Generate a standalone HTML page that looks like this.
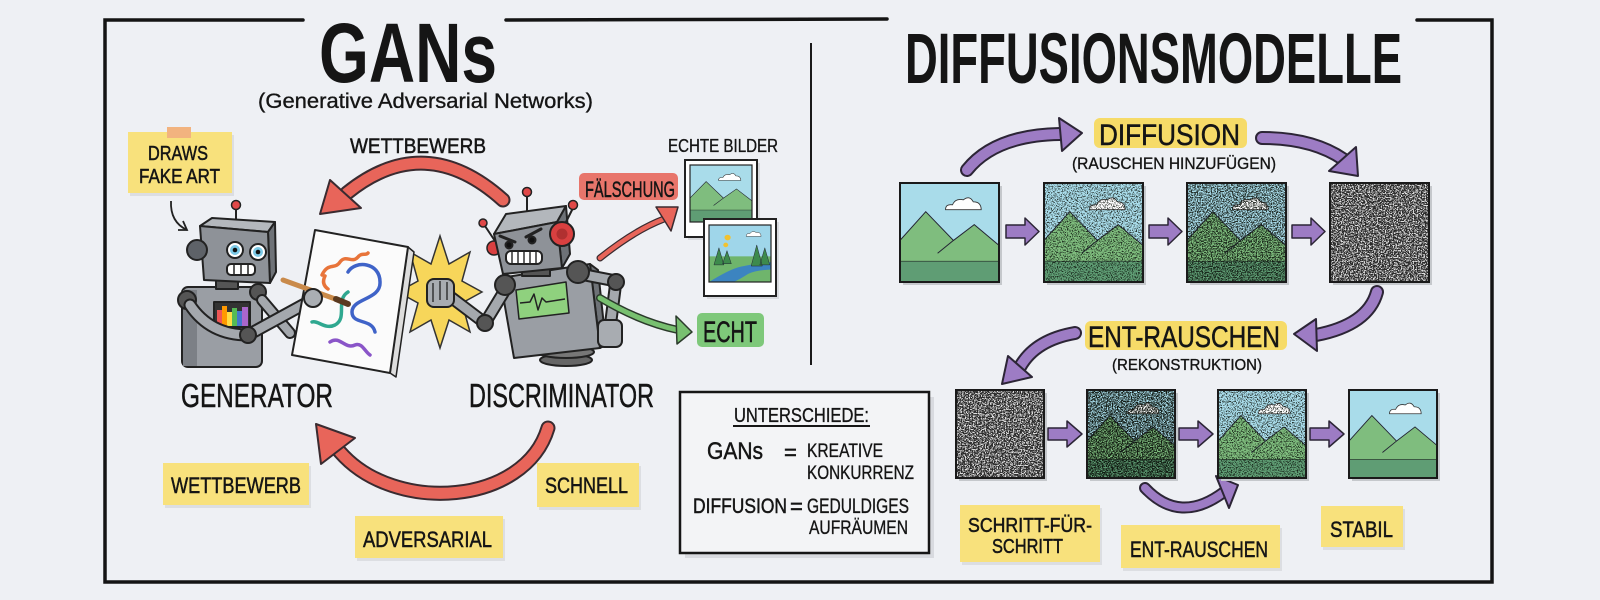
<!DOCTYPE html>
<html><head><meta charset="utf-8">
<style>
html,body{margin:0;padding:0;background:#eef0f4;}
svg{display:block;}
text{font-family:"Liberation Sans","DejaVu Sans",sans-serif;fill:#151515;}
.lb{stroke:#151515;stroke-width:0.5;}
.lt{stroke:#151515;stroke-width:0.35;}
</style></head><body>
<svg width="1600" height="600" viewBox="0 0 1600 600" xmlns="http://www.w3.org/2000/svg" xmlns:xlink="http://www.w3.org/1999/xlink">
<defs>
 <filter id="nd1" x="0" y="0" width="1" height="1" color-interpolation-filters="sRGB">
  <feTurbulence type="fractalNoise" baseFrequency="0.8" numOctaves="2" seed="7"/>
  <feColorMatrix type="matrix" values="0 0 0 0 0.05  0 0 0 0 0.08  0 0 0 0 0.05  10 0 0 0 -5.2"/>
 </filter>
 <filter id="nd2" x="0" y="0" width="1" height="1" color-interpolation-filters="sRGB">
  <feTurbulence type="fractalNoise" baseFrequency="0.8" numOctaves="2" seed="11"/>
  <feColorMatrix type="matrix" values="0 0 0 0 0.05  0 0 0 0 0.08  0 0 0 0 0.05  10 0 0 0 -4.6"/>
 </filter>
 <filter id="nw" x="0" y="0" width="1" height="1" color-interpolation-filters="sRGB">
  <feTurbulence type="fractalNoise" baseFrequency="0.75" numOctaves="2" seed="3"/>
  <feColorMatrix type="matrix" values="0 0 0 0 0.88  0 0 0 0 0.88  0 0 0 0 0.88  0 10 0 0 -4.9"/>
 </filter>
 <symbol id="land" viewBox="0 0 100 100" preserveAspectRatio="none">
  <rect width="100" height="100" fill="#a9dcea"/>
  <path d="M0,58 L26,29 L54,58 L75,42 L100,63 L100,80 L0,80 Z" fill="#7fbd7e" stroke="#223" stroke-width="1"/>
  <path d="M38,71 L54,58" stroke="#223" stroke-width="1" fill="none"/>
  <rect y="79" width="100" height="21" fill="#5f9d74"/>
  <path d="M0,79 H100" stroke="#2a3d30" stroke-width="0.8"/>
  <path d="M46,27 Q46,21 53,22 Q56,15 64,17 Q70,12 74,19 Q82,19 82,27 Z" fill="#fff" stroke="#333" stroke-width="0.9"/>
 </symbol>
 <symbol id="forest" viewBox="0 0 100 100" preserveAspectRatio="none">
  <rect width="100" height="100" fill="#9fd6ea"/>
  <rect y="55" width="100" height="45" fill="#6fb56c"/>
  <path d="M0,100 Q30,80 45,75 Q60,70 100,65 L100,78 Q70,80 60,88 Q50,95 40,100 Z" fill="#3c84c0"/>
  <path d="M8,70 L16,40 L24,70Z M22,68 L29,45 L36,68Z M68,72 L77,35 L86,72Z M82,70 L90,40 L98,70Z" fill="#3d8a4c" stroke="#223" stroke-width="0.8"/>
  <circle cx="30" cy="22" r="5" fill="#f2c230"/>
  <circle cx="27" cy="35" r="4" fill="#f2c230"/>
  <path d="M60,20 Q60,14 66,15 Q70,9 76,13 Q84,12 84,20Z" fill="#fff" stroke="#333" stroke-width="0.8"/>
 </symbol>
</defs>

<rect width="1600" height="600" fill="#eef0f4"/>

<!-- Frame -->
<g stroke="#141414" stroke-width="3.5" stroke-linecap="round" fill="none">
 <path d="M303,20 L105,20 L105,582 L1492,582 L1492,20 L1417,20"/>
 <path d="M506,20 L887,19"/>
</g>
<path d="M811,43 L811,365" stroke="#1a1a1a" stroke-width="2"/>

<!-- Titles -->
<text x="319" y="82" font-size="84" font-weight="bold" textLength="178" lengthAdjust="spacingAndGlyphs">GANs</text>
<text x="258" y="108" font-size="21" class="lt" textLength="335" lengthAdjust="spacingAndGlyphs">(Generative Adversarial Networks)</text>
<text x="905" y="83" font-size="71" font-weight="bold" textLength="497" lengthAdjust="spacingAndGlyphs">DIFFUSIONSMODELLE</text>

<!-- DRAWS FAKE ART sticky -->
<rect x="130" y="135" width="104" height="61" fill="#c9cbcf" opacity="0.5"/>
<rect x="128" y="132" width="104" height="61" fill="#f8e17c"/>
<rect x="167" y="127" width="24" height="11" fill="#f2b37f"/>
<text x="148" y="160" font-size="20" class="lb" textLength="60" lengthAdjust="spacingAndGlyphs">DRAWS</text>
<text x="139" y="183" font-size="20" class="lb" textLength="81" lengthAdjust="spacingAndGlyphs">FAKE ART</text>
<path d="M171,201 Q170,222 187,230" stroke="#222" stroke-width="1.8" fill="none"/>
<path d="M178,230 L187,230 L183,221" stroke="#222" stroke-width="1.8" fill="none"/>

<text x="350" y="153" font-size="21" class="lb" textLength="136" lengthAdjust="spacingAndGlyphs">WETTBEWERB</text>

<!-- Top red arrow -->
<path d="M503,200 Q425,130 347,193" stroke="#3a2b30" stroke-width="15" fill="none" stroke-linecap="round"/>
<path d="M503,200 Q425,130 347,193" stroke="#e8655a" stroke-width="11" fill="none" stroke-linecap="round"/>
<polygon points="320,214 330,180 361,208" fill="#e8655a" stroke="#3a2b30" stroke-width="2" stroke-linejoin="round"/>

<!-- Starburst -->
<polygon points="482,292 462,303 470,332 449,320 440,348 431,320 410,332 418,303 398,292 418,281 410,252 431,264 440,236 449,264 470,252 462,281" fill="#f7d65a" stroke="#333" stroke-width="1.5"/>

<!-- Generator robot -->
<g stroke="#222" stroke-width="2" stroke-linejoin="round">
 <rect x="182" y="287" width="80" height="80" rx="6" fill="#9a9ea4"/>
 <rect x="183" y="290" width="14" height="76" fill="#7c8086" stroke="none"/>
 <rect x="214" y="302" width="36" height="25" fill="#333"/>
 <rect x="217" y="310" width="5" height="16" fill="#e55" stroke="none"/>
 <rect x="222" y="306" width="5" height="20" fill="#f90" stroke="none"/>
 <rect x="227" y="312" width="5" height="14" fill="#fd4" stroke="none"/>
 <rect x="232" y="308" width="5" height="18" fill="#5b5" stroke="none"/>
 <rect x="237" y="311" width="5" height="15" fill="#47c" stroke="none"/>
 <rect x="242" y="307" width="6" height="19" fill="#a6c" stroke="none"/>
 <rect x="216" y="280" width="22" height="9" fill="#555"/>
 <circle cx="258" cy="292" r="8" fill="#555"/>
 <path d="M262,300 L290,333" stroke="#222" stroke-width="12" fill="none" stroke-linecap="round"/>
 <path d="M262,300 L290,333" stroke="#a4a8ad" stroke-width="8" fill="none" stroke-linecap="round"/>
 <circle cx="187" cy="300" r="9" fill="#555"/>
 <path d="M190,305 Q210,335 248,335 L312,300" stroke="#222" stroke-width="13" fill="none" stroke-linecap="round"/>
 <path d="M190,305 Q210,335 248,335 L312,300" stroke="#a4a8ad" stroke-width="9" fill="none" stroke-linecap="round"/>
 <circle cx="248" cy="335" r="8" fill="#555"/>
</g>
<!-- Canvas -->
<g stroke="#222" stroke-linejoin="round">
 <polygon points="408,247 414,252 396,377 390,373" fill="#ddd" stroke-width="1.5"/>
 <polygon points="315,230 408,247 390,373 292,355" fill="#fbfbfb" stroke-width="2"/>
 <g fill="none" stroke-width="3.5" stroke-linecap="round">
  <path d="M322,275 C328,262 335,270 340,262 C346,254 352,264 358,257 C362,252 366,256 368,253" stroke="#e8743a"/>
  <path d="M325,276 q-4,8 3,13" stroke="#e8743a"/>
  <path d="M348,272 C355,260 380,262 380,282 C381,300 352,298 352,312 C352,325 372,318 375,332" stroke="#3f63c8"/>
  <path d="M348,292 C335,300 348,318 335,325 C325,330 318,320 312,322" stroke="#2fa890"/>
  <path d="M330,342 C340,335 345,350 355,345 C362,342 365,352 370,355" stroke="#8a55c8"/>
 </g>
</g>
<!-- brush + hand -->
<path d="M283,280 L338,300" stroke="#c98a4a" stroke-width="5" stroke-linecap="round"/>
<path d="M336,299 L348,304" stroke="#5a3a20" stroke-width="6" stroke-linecap="round"/>
<circle cx="313" cy="298" r="9" fill="#aaaeb3" stroke="#222" stroke-width="2"/>
<!-- Generator head -->
<g stroke="#222" stroke-width="2" stroke-linejoin="round">
 <line x1="236" y1="207" x2="236" y2="221"/>
 <circle cx="236" cy="205" r="4.5" fill="#e04848" stroke-width="1.5"/>
 <polygon points="200,226 212,218 275,222 268,232" fill="#b4b8bd"/>
 <polygon points="268,232 275,222 276,272 270,283" fill="#6e7277"/>
 <polygon points="200,226 268,232 270,283 204,280" fill="#8e9298"/>
 <circle cx="197" cy="250" r="10" fill="#5e6268"/>
 <circle cx="235" cy="250" r="8" fill="#fff"/>
 <circle cx="235" cy="250" r="5" fill="#7cc9e6" stroke="none"/>
 <circle cx="235" cy="250" r="2.3" fill="#111" stroke="none"/>
 <circle cx="258" cy="252" r="8" fill="#fff"/>
 <circle cx="258" cy="252" r="5" fill="#7cc9e6" stroke="none"/>
 <circle cx="258" cy="252" r="2.3" fill="#111" stroke="none"/>
 <rect x="227" y="264" width="28" height="11" rx="4" fill="#fff"/>
 <path d="M234,264 V275 M241,264 V275 M248,264 V275" stroke-width="1.5"/>
</g>

<!-- Discriminator robot -->
<g stroke="#222" stroke-width="2" stroke-linejoin="round">
 <ellipse cx="566" cy="360" rx="26" ry="6" fill="#666"/>
 <ellipse cx="566" cy="352" rx="28" ry="6" fill="#777"/>
 <polygon points="590,264 598,270 606,345 600,348" fill="#6e7277"/>
 <polygon points="500,278 590,264 600,348 514,358" fill="#9a9ea4"/>
 <polygon points="516,290 566,282 569,313 519,319" fill="#8fd17e" stroke-width="1.5"/>
 <polyline points="520,303 530,302 534,294 538,310 542,298 546,302 565,299" fill="none" stroke-width="1.5"/>
 <rect x="522" y="266" width="28" height="10" fill="#555"/>
 <path d="M505,290 L485,323 L448,295" stroke="#222" stroke-width="13" fill="none" stroke-linecap="round"/>
 <path d="M505,290 L485,323 L448,295" stroke="#a4a8ad" stroke-width="9" fill="none" stroke-linecap="round"/>
 <circle cx="505" cy="285" r="10" fill="#555"/>
 <circle cx="485" cy="323" r="8" fill="#555"/>
 <rect x="427" y="279" width="27" height="28" rx="7" fill="#a8acb1"/>
 <path d="M433,283 V302 M440,281 V300 M447,282 V300" stroke-width="1.3"/>
 <path d="M580,274 L616,281 L610,328" stroke="#222" stroke-width="13" fill="none" stroke-linecap="round"/>
 <path d="M580,274 L616,281 L610,328" stroke="#a4a8ad" stroke-width="9" fill="none" stroke-linecap="round"/>
 <circle cx="578" cy="272" r="11" fill="#555"/>
 <circle cx="616" cy="282" r="8" fill="#555"/>
 <rect x="598" y="320" width="24" height="27" rx="6" fill="#a8acb1"/>
 <!-- head -->
 <line x1="527" y1="216" x2="527" y2="195"/>
 <circle cx="527" cy="192" r="4.5" fill="#e04848" stroke-width="1.5"/>
 <line x1="497" y1="244" x2="485" y2="226"/>
 <circle cx="483" cy="223" r="4" fill="#e04848" stroke-width="1.5"/>
 <circle cx="494" cy="248" r="7" fill="#d94040" stroke-width="1.5"/>
 <polygon points="494,234 506,214 566,206 557,222" fill="#b3b7bc"/>
 <polygon points="557,222 566,206 570,254 562,268" fill="#6e7277"/>
 <polygon points="494,234 557,222 562,268 503,274" fill="#8e9298"/>
 <line x1="565" y1="224" x2="573" y2="208"/>
 <circle cx="573" cy="205" r="4.5" fill="#e04848" stroke-width="1.5"/>
 <circle cx="562" cy="234" r="12" fill="#d94040"/>
 <circle cx="562" cy="234" r="5.5" fill="#b03030" stroke="none"/>
 <circle cx="509" cy="245" r="3.5" fill="#111"/>
 <circle cx="532" cy="240" r="3.5" fill="#111"/>
 <path d="M500,236 L515,242 M526,237 L541,229" stroke-width="3" stroke-linecap="round"/>
 <rect x="506" y="251" width="36" height="13" rx="5" fill="#fff"/>
 <path d="M512,251 V264 M518,251 V264 M524,251 V264 M530,251 V264 M536,251 V264" stroke-width="1.4"/>
</g>

<!-- Echte Bilder -->
<text x="668" y="152" font-size="18" class="lt" textLength="110" lengthAdjust="spacingAndGlyphs">ECHTE BILDER</text>
<rect x="688" y="163" width="72" height="77" fill="#c9cbcf" opacity="0.6"/>
<rect x="685" y="160" width="72" height="77" fill="#fff" stroke="#222" stroke-width="2"/>
<use xlink:href="#land" x="690" y="165" width="62" height="57"/>
<rect x="690" y="165" width="62" height="57" fill="none" stroke="#222" stroke-width="1.2"/>
<rect x="707" y="222" width="72" height="77" fill="#c9cbcf" opacity="0.6"/>
<rect x="704" y="219" width="72" height="77" fill="#fff" stroke="#222" stroke-width="2"/>
<use xlink:href="#forest" x="709" y="225" width="62" height="57"/>
<rect x="709" y="225" width="62" height="57" fill="none" stroke="#222" stroke-width="1.2"/>

<!-- Fälschung -->
<rect x="579" y="173" width="99" height="27" rx="5" fill="#e8756b"/>
<text x="585" y="197" font-size="22" class="lb" textLength="90" lengthAdjust="spacingAndGlyphs">FÄLSCHUNG</text>
<path d="M600,258 Q635,230 664,219" stroke="#3a2b30" stroke-width="7" fill="none" stroke-linecap="round"/>
<path d="M600,258 Q635,230 664,219" stroke="#e8655a" stroke-width="4.5" fill="none" stroke-linecap="round"/>
<polygon points="678,207 656,207 671,231" fill="#e8655a" stroke="#3a2b30" stroke-width="1.5" stroke-linejoin="round"/>

<!-- Echt -->
<path d="M600,298 Q640,322 678,330" stroke="#2b3a2b" stroke-width="8" fill="none" stroke-linecap="round"/>
<path d="M600,298 Q640,322 678,330" stroke="#78c070" stroke-width="5" fill="none" stroke-linecap="round"/>
<polygon points="692,332 676,316 677,344" fill="#78c070" stroke="#2b3a2b" stroke-width="1.5" stroke-linejoin="round"/>
<rect x="697" y="313" width="67" height="34" rx="5" fill="#7ec87a"/>
<text x="703" y="342" font-size="30" class="lb" textLength="54" lengthAdjust="spacingAndGlyphs">ECHT</text>

<!-- Generator / Discriminator labels -->
<text x="181" y="407" font-size="33" class="lb" textLength="152" lengthAdjust="spacingAndGlyphs">GENERATOR</text>
<text x="469" y="407" font-size="33" class="lb" textLength="185" lengthAdjust="spacingAndGlyphs">DISCRIMINATOR</text>

<!-- Bottom red arrow -->
<path d="M548,428 C525,505 395,515 340,452" stroke="#3a2b30" stroke-width="15" fill="none" stroke-linecap="round"/>
<path d="M548,428 C525,505 395,515 340,452" stroke="#e8655a" stroke-width="11" fill="none" stroke-linecap="round"/>
<polygon points="316,424 321,464 355,438" fill="#e8655a" stroke="#3a2b30" stroke-width="2" stroke-linejoin="round"/>

<!-- Bottom stickies left -->
<rect x="165" y="466" width="146" height="42" fill="#c9cbcf" opacity="0.5"/>
<rect x="163" y="463" width="146" height="42" fill="#f8e17c"/>
<text x="171" y="493" font-size="22" class="lb" textLength="130" lengthAdjust="spacingAndGlyphs">WETTBEWERB</text>
<rect x="539" y="466" width="102" height="44" fill="#c9cbcf" opacity="0.5"/>
<rect x="537" y="463" width="102" height="44" fill="#f8e17c"/>
<text x="545" y="493" font-size="22" class="lb" textLength="83" lengthAdjust="spacingAndGlyphs">SCHNELL</text>
<rect x="357" y="519" width="148" height="42" fill="#c9cbcf" opacity="0.5"/>
<rect x="355" y="516" width="148" height="42" fill="#f8e17c"/>
<text x="363" y="547" font-size="22" class="lb" textLength="129" lengthAdjust="spacingAndGlyphs">ADVERSARIAL</text>

<!-- Unterschiede box -->
<rect x="685" y="397" width="249" height="161" fill="#c9cbd0" opacity="0.6"/>
<rect x="680" y="392" width="249" height="161" fill="#f3f4f6" stroke="#161616" stroke-width="2.5"/>
<text x="734" y="422" font-size="20" class="lt" textLength="135" lengthAdjust="spacingAndGlyphs">UNTERSCHIEDE:</text>
<line x1="733" y1="426" x2="870" y2="426" stroke="#161616" stroke-width="2"/>
<text x="707" y="459" font-size="24" class="lb" textLength="56" lengthAdjust="spacingAndGlyphs">GANs</text>
<text x="784" y="460" font-size="22" class="lb">=</text>
<text x="807" y="457" font-size="19" class="lt" textLength="76" lengthAdjust="spacingAndGlyphs">KREATIVE</text>
<text x="807" y="479" font-size="19" class="lt" textLength="107" lengthAdjust="spacingAndGlyphs">KONKURRENZ</text>
<text x="693" y="513" font-size="21" class="lb" textLength="94" lengthAdjust="spacingAndGlyphs">DIFFUSION</text>
<text x="790" y="514" font-size="22" class="lb">=</text>
<text x="807" y="513" font-size="21" class="lt" textLength="102" lengthAdjust="spacingAndGlyphs">GEDULDIGES</text>
<text x="809" y="534" font-size="19" class="lt" textLength="99" lengthAdjust="spacingAndGlyphs">AUFRÄUMEN</text>

<!-- Diffusion top labels -->
<rect x="1094" y="118" width="153" height="30" rx="6" fill="#f6db68"/>
<text x="1099" y="145" font-size="30" class="lb" textLength="141" lengthAdjust="spacingAndGlyphs">DIFFUSION</text>
<text x="1072" y="169" font-size="17" class="lt" textLength="204" lengthAdjust="spacingAndGlyphs">(RAUSCHEN HINZUFÜGEN)</text>

<!-- purple curved arrows -->
<g fill="none" stroke-linecap="round">
 <path d="M967,170 Q995,135 1060,134" stroke="#2c2536" stroke-width="14"/>
 <path d="M967,170 Q995,135 1060,134" stroke="#9d7cc4" stroke-width="10"/>
 <path d="M1262,138 Q1312,138 1343,159" stroke="#2c2536" stroke-width="14"/>
 <path d="M1262,138 Q1312,138 1343,159" stroke="#9d7cc4" stroke-width="10"/>
 <path d="M1377,292 Q1368,325 1316,335" stroke="#2c2536" stroke-width="14"/>
 <path d="M1377,292 Q1368,325 1316,335" stroke="#9d7cc4" stroke-width="10"/>
 <path d="M1075,333 Q1035,340 1020,367" stroke="#2c2536" stroke-width="14"/>
 <path d="M1075,333 Q1035,340 1020,367" stroke="#9d7cc4" stroke-width="10"/>
 <path d="M1145,488 Q1180,525 1224,492" stroke="#2c2536" stroke-width="12"/>
 <path d="M1145,488 Q1180,525 1224,492" stroke="#9d7cc4" stroke-width="8"/>
</g>
<g fill="#9d7cc4" stroke="#2c2536" stroke-width="2" stroke-linejoin="round">
 <polygon points="1082,133 1059,118 1062,151"/>
 <polygon points="1358,176 1329,171 1356,147"/>
 <polygon points="1294,334 1316,319 1317,351"/>
 <polygon points="1002,384 1008,356 1032,377"/>
 <polygon points="1238,485 1216,476 1229,508"/>
</g>

<!-- Row 1 images -->
<g>
 <rect x="903" y="186" width="99" height="99" fill="#c5c8cc"/>
 <use xlink:href="#land" x="900" y="183" width="99" height="99"/>
 <rect x="900" y="183" width="99" height="99" fill="none" stroke="#1a1a1a" stroke-width="2"/>

 <rect x="1047" y="186" width="99" height="99" fill="#c5c8cc"/>
 <use xlink:href="#land" x="1044" y="183" width="99" height="99"/>
 <rect x="1044" y="183" width="99" height="99" filter="url(#nd1)" opacity="0.8"/>
 <rect x="1044" y="183" width="99" height="99" fill="none" stroke="#1a1a1a" stroke-width="2"/>

 <rect x="1190" y="186" width="99" height="99" fill="#c5c8cc"/>
 <use xlink:href="#land" x="1187" y="183" width="99" height="99"/>
 <rect x="1187" y="183" width="99" height="99" filter="url(#nd2)" opacity="0.85"/>
 <rect x="1187" y="183" width="99" height="99" fill="none" stroke="#1a1a1a" stroke-width="2"/>

 <rect x="1333" y="186" width="99" height="99" fill="#c5c8cc"/>
 <rect x="1330" y="183" width="99" height="99" fill="#2a2a2a"/>
 <rect x="1330" y="183" width="99" height="99" filter="url(#nw)"/>
 <rect x="1330" y="183" width="99" height="99" fill="none" stroke="#1a1a1a" stroke-width="2"/>
</g>
<g fill="#9d7cc4" stroke="#2c2536" stroke-width="1.5" stroke-linejoin="round">
 <path d="M1006,225 H1025 V218 L1039,231.5 L1025,245 V238 H1006 Z"/>
 <path d="M1149,225 H1168 V218 L1182,231.5 L1168,245 V238 H1149 Z"/>
 <path d="M1292,225 H1311 V218 L1325,231.5 L1311,245 V238 H1292 Z"/>
</g>

<!-- Ent-Rauschen label -->
<rect x="1085" y="321" width="202" height="29" rx="6" fill="#f6db68"/>
<text x="1088" y="347" font-size="30" class="lb" textLength="192" lengthAdjust="spacingAndGlyphs">ENT-RAUSCHEN</text>
<text x="1112" y="370" font-size="16" class="lt" textLength="150" lengthAdjust="spacingAndGlyphs">(REKONSTRUKTION)</text>

<!-- Row 2 images -->
<g>
 <rect x="959" y="393" width="88" height="88" fill="#c5c8cc"/>
 <rect x="956" y="390" width="88" height="88" fill="#2a2a2a"/>
 <rect x="956" y="390" width="88" height="88" filter="url(#nw)"/>
 <rect x="956" y="390" width="88" height="88" fill="none" stroke="#1a1a1a" stroke-width="2"/>

 <rect x="1090" y="393" width="88" height="88" fill="#c5c8cc"/>
 <use xlink:href="#land" x="1087" y="390" width="88" height="88"/>
 <rect x="1087" y="390" width="88" height="88" filter="url(#nd2)" opacity="0.95"/>
 <rect x="1087" y="390" width="88" height="88" filter="url(#nd1)" opacity="0.6"/>
 <rect x="1087" y="390" width="88" height="88" fill="none" stroke="#1a1a1a" stroke-width="2"/>

 <rect x="1221" y="393" width="88" height="88" fill="#c5c8cc"/>
 <use xlink:href="#land" x="1218" y="390" width="88" height="88"/>
 <rect x="1218" y="390" width="88" height="88" filter="url(#nd1)" opacity="0.85"/>
 <rect x="1218" y="390" width="88" height="88" fill="none" stroke="#1a1a1a" stroke-width="2"/>

 <rect x="1352" y="393" width="88" height="88" fill="#c5c8cc"/>
 <use xlink:href="#land" x="1349" y="390" width="88" height="88"/>
 <rect x="1349" y="390" width="88" height="88" fill="none" stroke="#1a1a1a" stroke-width="2"/>
</g>
<g fill="#9d7cc4" stroke="#2c2536" stroke-width="1.5" stroke-linejoin="round">
 <path d="M1048,428 H1067 V421 L1082,434 L1067,447 V440 H1048 Z"/>
 <path d="M1179,428 H1198 V421 L1213,434 L1198,447 V440 H1179 Z"/>
 <path d="M1310,428 H1329 V421 L1344,434 L1329,447 V440 H1310 Z"/>
</g>

<!-- Diffusion stickies -->
<rect x="962" y="508" width="140" height="57" fill="#c9cbcf" opacity="0.5"/>
<rect x="960" y="505" width="140" height="57" fill="#f8e17c"/>
<text x="968" y="532" font-size="20" class="lb" textLength="124" lengthAdjust="spacingAndGlyphs">SCHRITT-FÜR-</text>
<text x="992" y="553" font-size="20" class="lb" textLength="71" lengthAdjust="spacingAndGlyphs">SCHRITT</text>
<rect x="1123" y="528" width="159" height="43" fill="#c9cbcf" opacity="0.5"/>
<rect x="1121" y="525" width="159" height="43" fill="#f8e17c"/>
<text x="1130" y="557" font-size="22" class="lb" textLength="138" lengthAdjust="spacingAndGlyphs">ENT-RAUSCHEN</text>
<rect x="1323" y="509" width="82" height="41" fill="#c9cbcf" opacity="0.5"/>
<rect x="1321" y="506" width="82" height="41" fill="#f8e17c"/>
<text x="1330" y="537" font-size="22" class="lb" textLength="63" lengthAdjust="spacingAndGlyphs">STABIL</text>
</svg>
</body></html>
